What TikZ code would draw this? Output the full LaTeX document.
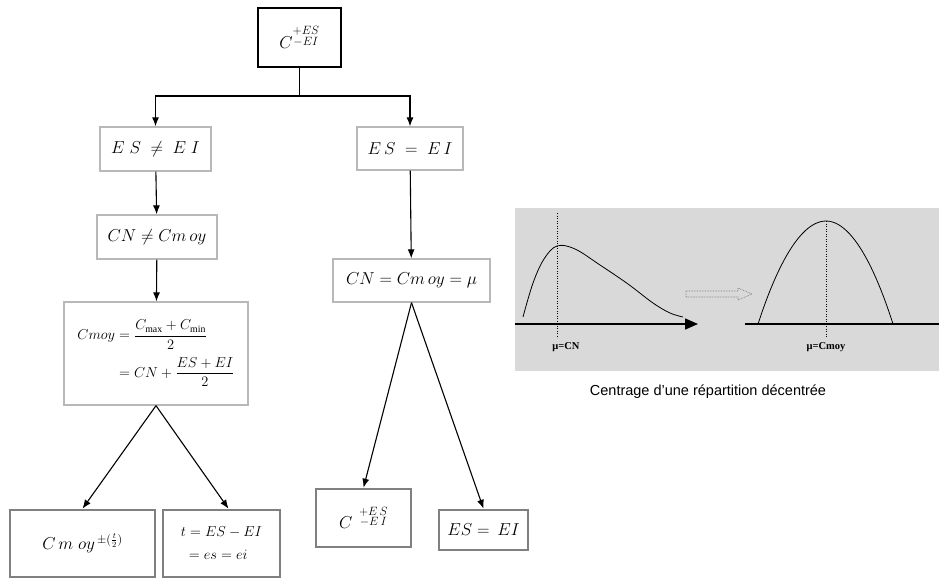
\documentclass[tikz,border=0pt]{standalone}
\usepackage{amsmath}
\usepackage{fontspec}
\setmainfont{Liberation Serif}
\newfontfamily\capfont{Liberation Sans}
\usetikzlibrary{arrows.meta,calc}
\definecolor{panelgray}{HTML}{D9D9D9}

\begin{document}
\begin{tikzpicture}[x=1pt,y=-1pt,
    box/.style={draw=black!28,line width=1.3pt,fill=white,inner sep=2pt,
      font=\fontsize{16}{19}\selectfont},
    topbox/.style={box,draw=black,line width=1.7pt},
    leafbox/.style={box,draw=black!50,line width=2.6pt},
    flow/.style={-{Latex[length=9pt,width=7pt]},line width=1.1pt}]
  \useasboundingbox (0,0) rectangle (939,579);
  \draw
    (299.5,37.5) node[topbox,minimum width=83pt,minimum height=59pt,font=\fontsize{18}{21}\selectfont] (top){$C^{\substack{+ES\\-EI}}$}
    (155.5,149) node[box,minimum width=111pt,minimum height=44pt] (esne){$E\;S \;\neq\; E\;I$}
    (410,148.5) node[box,minimum width=106pt,minimum height=43pt] (eseq){$E\,S \;=\; E\,I$}
    (157,237) node[box,minimum width=120pt,minimum height=44pt] (cnne){$CN \neq Cm\,oy$}
    (156,353.5) node[box,minimum width=184pt,minimum height=103pt,font=\fontsize{14}{17}\selectfont] (cmoy){$\begin{aligned} Cmoy &= \frac{C_{\max}+C_{\min}}{2}\\[4pt] &= CN + \frac{ES+EI}{2}\end{aligned}$}
    (411.5,280.5) node[box,minimum width=157pt,minimum height=43pt] (cneq){$CN = Cm\,oy = \mu$}
    (82.5,543.5) node[leafbox,minimum width=145pt,minimum height=67pt,font=\fontsize{17}{20}\selectfont] (cpm){$C\,m\;oy^{\,\pm(\frac{t}{2})}$}
    (221.5,543.5) node[leafbox,minimum width=117pt,minimum height=67pt,align=left,font=\fontsize{15}{18}\selectfont] (tbox){$t = ES - EI$\\[5pt]\hspace{8pt}$= es = ei$}
    (363.5,518) node[leafbox,minimum width=95pt,minimum height=58pt,font=\fontsize{18}{21}\selectfont] (cbox){$C^{\;\;\substack{+E\,S\\-E\,I}}$}
    (483.5,530) node[leafbox,minimum width=89pt,minimum height=40pt] (eqbox){$ES = \,EI$};
  \coordinate (split) at (299.5,96);
  \begin{scope}[flow]
    \draw[-] (top) -- (split);
    \draw (split) -| (esne);
    \draw (split) -| (eseq);
    \draw (esne) -- (cnne);
    \draw (cnne) -- (cmoy);
    \draw (eseq) -- (cneq);
    \draw (cmoy.south) -- (cpm.north);
    \draw (cmoy.south) -- ($(tbox.north)+(7,0)$);
    \draw (cneq.south) -- (cbox.north);
    \draw (cneq.south) -- (eqbox.north);
  \end{scope}
  % centrage
  \fill[panelgray] (515,208) rectangle (939,371);
  \draw[line width=0.8pt] plot[smooth,tension=0.6] coordinates
    {(523,317) (533,283) (544,259) (557,246) (575,249) (600,265) (628,284) (653,303) (670,313) (683,317)};
  \draw[-{Triangle[length=13pt,width=11pt]},line width=1.6pt] (515,324) -- (698,324);
  \draw[dotted,line width=0.5pt] (557,213) -- (557,338);
  \node[font=\bfseries\fontsize{10.5}{12}\selectfont] (mucn) at (566,347) {μ=CN};
  \draw[densely dotted,black!60,line width=0.6pt] (686,291) -- (738,291) -- (738,288) -- (752,294) -- (738,300) -- (738,297) -- (686,297) -- cycle;
  \draw[line width=1.2pt] (745,324) -- (939,324);
  \draw[line width=0.8pt] (758,324) parabola bend (826,221) (893,324);
  \draw[dotted,line width=0.5pt] (826,221) -- (826,338);
  \node[font=\bfseries\fontsize{10.5}{12}\selectfont] (mucmoy) at (826,347) {μ=Cmoy};
  \node[font=\capfont\fontsize{14.5}{17}\selectfont] (caption) at (708,392) {Centrage d’une répartition décentrée};
\end{tikzpicture}
\end{document}
